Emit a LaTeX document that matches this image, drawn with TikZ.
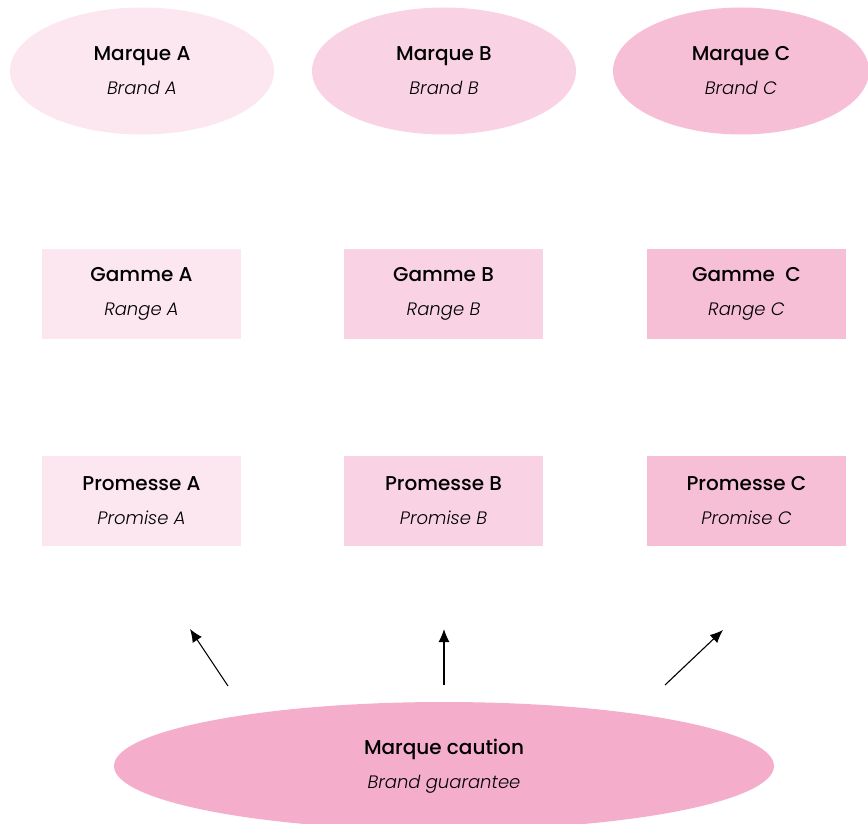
\documentclass[tikz,border=0pt]{standalone}
\usepackage{fontspec}
\setmainfont{Poppins}[BoldFont={Poppins Medium},ItalicFont={Poppins Light Italic}]
\usetikzlibrary{shapes.geometric,arrows.meta}
\definecolor{pA}{HTML}{FCE6EF}
\definecolor{pB}{HTML}{F9D3E3}
\definecolor{pC}{HTML}{F7BFD6}
\definecolor{pG}{HTML}{F5ADCC}
\tikzset{
  ell/.style={ellipse, draw=none, inner sep=0pt, minimum width=264pt, minimum height=127pt, align=center,
    font=\fontsize{20}{34}\selectfont},
  box/.style={rectangle, draw=none, inner sep=0pt, minimum width=199pt, minimum height=90pt, align=center,
    font=\fontsize{20}{34}\selectfont},
  arr/.style={line width=1.1pt, -{Latex[length=13pt,width=11pt]}}
}
\newcommand{\twol}[2]{{\bfseries #1}\\{\fontsize{18}{34}\selectfont\itshape #2}}
\begin{document}
\begin{tikzpicture}[x=1pt,y=-1pt]
\useasboundingbox (0,0) rectangle (868,824);
\clip (0,0) rectangle (868,824);
\node[ell, fill=pA] (mA) at (142,71) {\twol{Marque A}{Brand A}};
\node[ell, fill=pB] (mB) at (444,71) {\twol{Marque B}{Brand B}};
\node[ell, fill=pC, minimum width=256pt] (mC) at (741,71) {\twol{Marque C}{Brand C}};
\node[box, fill=pA] (gA) at (141.5,294) {\twol{Gamme A}{Range A}};
\node[box, fill=pB] (gB) at (443.5,294) {\twol{Gamme B}{Range B}};
\node[box, fill=pC] (gC) at (746.5,294) {\twol{Gamme\ \ C}{Range C}};
\node[box, fill=pA] (pAn) at (141.5,501) {\twol{Promesse A}{Promise A}};
\node[box, fill=pB] (pBn) at (443.5,501) {\twol{Promesse B}{Promise B}};
\node[box, fill=pC] (pCn) at (746.5,501) {\twol{Promesse C}{Promise C}};
\node[ell, fill=pG, minimum width=660pt, minimum height=128pt] (mc) at (444,766) {\twol{Marque caution}{Brand guarantee}};
\coordinate (s1) at (228,686);
\coordinate (t1) at (190,629);
\coordinate (s2) at (444,685);
\coordinate (t2) at (444,629);
\coordinate (s3) at (665,685);
\coordinate (t3) at (723,630);
\draw[arr] (s1) -- (t1);
\draw[arr] (s2) -- (t2);
\draw[arr] (s3) -- (t3);
\end{tikzpicture}
\end{document}
